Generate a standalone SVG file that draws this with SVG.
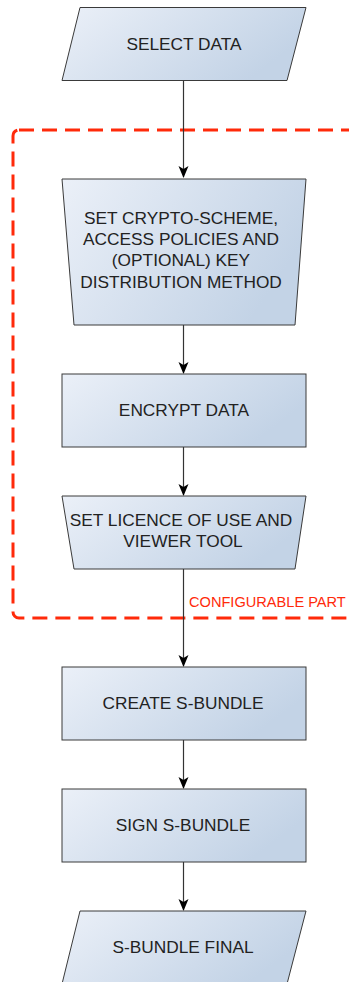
<svg xmlns="http://www.w3.org/2000/svg" width="349" height="982" viewBox="0 0 349 982">
<defs>
<linearGradient id="fill" x1="0" y1="0" x2="1" y2="0.4">
<stop offset="0" stop-color="#ebf0f8"/>
<stop offset="1" stop-color="#c3d3e6"/>
</linearGradient>
<marker id="arr" viewBox="0 0 12 12" refX="11" refY="6" markerWidth="12" markerHeight="12" markerUnits="userSpaceOnUse" orient="auto">
<path d="M0,1 L12,6 L0,11 L3,6 Z" fill="#000"/>
</marker>
<style>
.shape{fill:url(#fill);stroke:#3a3a3a;stroke-width:1}
.lbl{font-family:"Liberation Sans",Arial,sans-serif;font-size:17.3px;fill:#222;text-anchor:middle}
.conn{stroke:#333;stroke-width:1.2;fill:none;marker-end:url(#arr)}
</style>
</defs>
<rect id="configurable" x="13" y="130" width="400" height="488" rx="6" fill="none" stroke="#ff2a0a" stroke-width="3" stroke-dasharray="15 8"/>
<text x="189" y="607" font-family="Liberation Sans,Arial,sans-serif" font-size="14.6" fill="#ff2a0a">CONFIGURABLE PART</text>
<g id="connectors">
<line class="conn" x1="183.5" y1="81" x2="183.5" y2="177"/>
<line class="conn" x1="183.5" y1="325" x2="183.5" y2="373"/>
<line class="conn" x1="183.5" y1="447" x2="183.5" y2="495"/>
<line class="conn" x1="183.5" y1="569" x2="183.5" y2="666"/>
<line class="conn" x1="183.5" y1="740" x2="183.5" y2="788"/>
<line class="conn" x1="183.5" y1="862" x2="183.5" y2="910"/>
</g>
<g id="select-data">
<polygon class="shape" points="80,7.5 306,7.5 287,80.5 62,80.5"/>
<text class="lbl" x="184" y="50">SELECT DATA</text>
</g>
<g id="set-crypto">
<polygon class="shape" points="62,179 306,179 295,325 74,325"/>
<text class="lbl" x="181" y="224">SET CRYPTO-SCHEME,</text>
<text class="lbl" x="181" y="245">ACCESS POLICIES AND</text>
<text class="lbl" x="181" y="266">(OPTIONAL) KEY</text>
<text class="lbl" x="181" y="288">DISTRIBUTION METHOD</text>
</g>
<g id="encrypt-data">
<rect class="shape" x="62" y="374" width="244" height="73"/>
<text class="lbl" x="184" y="416">ENCRYPT DATA</text>
</g>
<g id="set-licence">
<polygon class="shape" points="62,496 306,496 295,569 74,569"/>
<text class="lbl" x="181" y="526">SET LICENCE OF USE AND</text>
<text class="lbl" x="183" y="547">VIEWER TOOL</text>
</g>
<g id="create-sbundle">
<rect class="shape" x="62" y="667" width="244" height="73"/>
<text class="lbl" x="183" y="709">CREATE S-BUNDLE</text>
</g>
<g id="sign-sbundle">
<rect class="shape" x="62" y="789" width="244" height="73"/>
<text class="lbl" x="183" y="831">SIGN S-BUNDLE</text>
</g>
<g id="sbundle-final">
<polygon class="shape" points="80,911 306,911 287,984 62,984"/>
<text class="lbl" x="183" y="953">S-BUNDLE FINAL</text>
</g>
</svg>
